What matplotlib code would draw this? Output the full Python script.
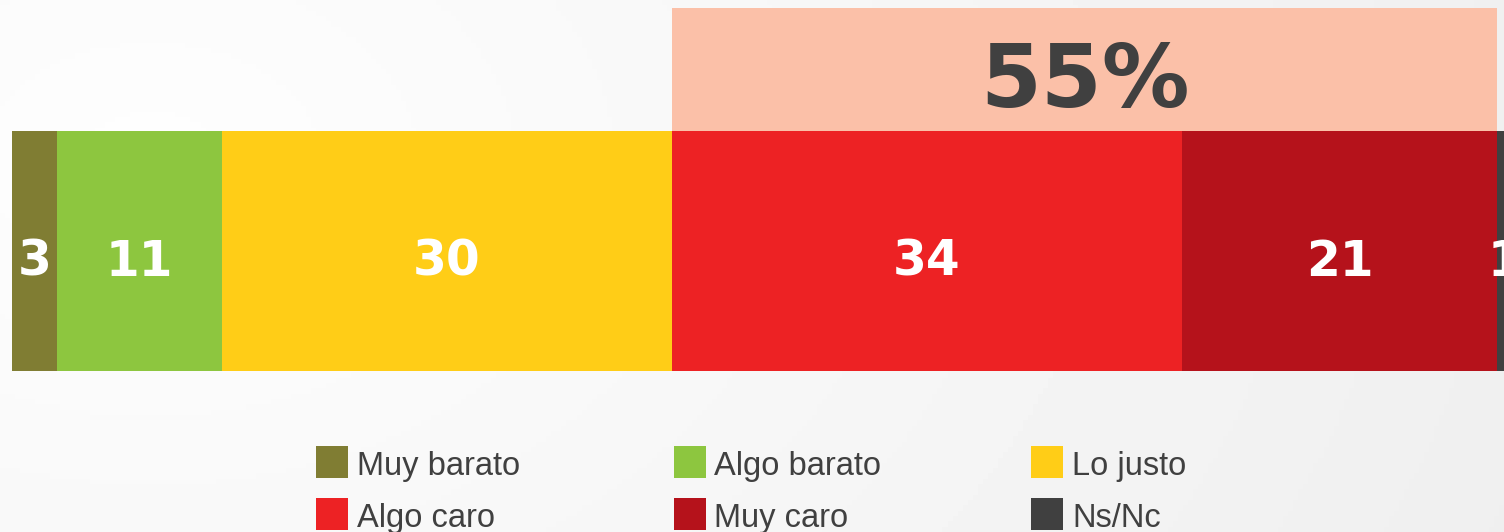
import numpy as np
import matplotlib
matplotlib.use('Agg')
import matplotlib.pyplot as plt
from matplotlib.patches import Rectangle

# data
categories = ['Muy barato', 'Algo barato', 'Lo justo', 'Algo caro', 'Muy caro', 'Ns/Nc']
values = [3, 11, 30, 34, 21, 1]
colors = ['#807D33', '#8DC63F', '#FFCD17', '#ED2224', '#B5121B', '#404040']
highlight = ['Algo caro', 'Muy caro']

W, H = 1504, 532
plt.rcParams['font.family'] = ['Liberation Sans', 'DejaVu Sans']
fig = plt.figure(figsize=(W / 100, H / 100), dpi=100)

# soft grey gradient background
bg = fig.add_axes([0, 0, 1, 1])
xx, yy = np.meshgrid(np.linspace(0, 1, 300), np.linspace(0, 1, 100))
shade = 0.995 - 0.06 * np.clip(np.hypot(xx - 0.1, (yy - 0.3) * 0.5), 0, 1)
bg.imshow(shade, cmap='gray', vmin=0, vmax=1, aspect='auto', extent=[0, 1, 0, 1])
bg.axis('off')

# stacked bar, bar height = 1 unit (240 px)
ax = fig.add_axes([12 / W, 161 / H, 1500 / W, 363 / H])
ax.set_xlim(0, 100)
ax.set_ylim(0, 363 / 240)
ax.axis('off')

left = 0
for name, v, c in zip(categories, values, colors):
    ax.barh(0.5, v, left=left, height=1, color=c, linewidth=0)
    ax.text(left + v / 2, 0.455, str(v), color='white', fontsize=35,
            fontweight='bold', family='DejaVu Sans', ha='center', va='center')
    left += v

# highlighted "caro" block
starts = np.cumsum([0] + values[:-1])
idx = [categories.index(h) for h in highlight]
box_x = starts[idx[0]]
box_w = sum(values[i] for i in idx)
ax.add_patch(Rectangle((box_x, 1), box_w, 123 / 240, color='#FBC0A8', linewidth=0))
ax.text(box_x + box_w / 2, 1 + 0.2, f'{box_w}%', color='#404040', fontsize=63,
        fontweight='bold', family='DejaVu Sans', ha='center', va='center')

# legend laid out in 2 rows x 3 columns
for i, (name, c) in enumerate(zip(categories, colors)):
    col, row = i % 3, i // 3
    x0 = 316 + col * 357.5
    y0 = 446 + row * 52
    fig.patches.append(Rectangle((x0 / W, 1 - (y0 + 32) / H), 32 / W, 32 / H,
                                 transform=fig.transFigure, color=c, linewidth=0))
    fig.text((x0 + 41) / W, 1 - (y0 + 29) / H, name, fontsize=23.5,
             color='#404040', va='baseline', ha='left')

fig.savefig('out.png', dpi=100)
